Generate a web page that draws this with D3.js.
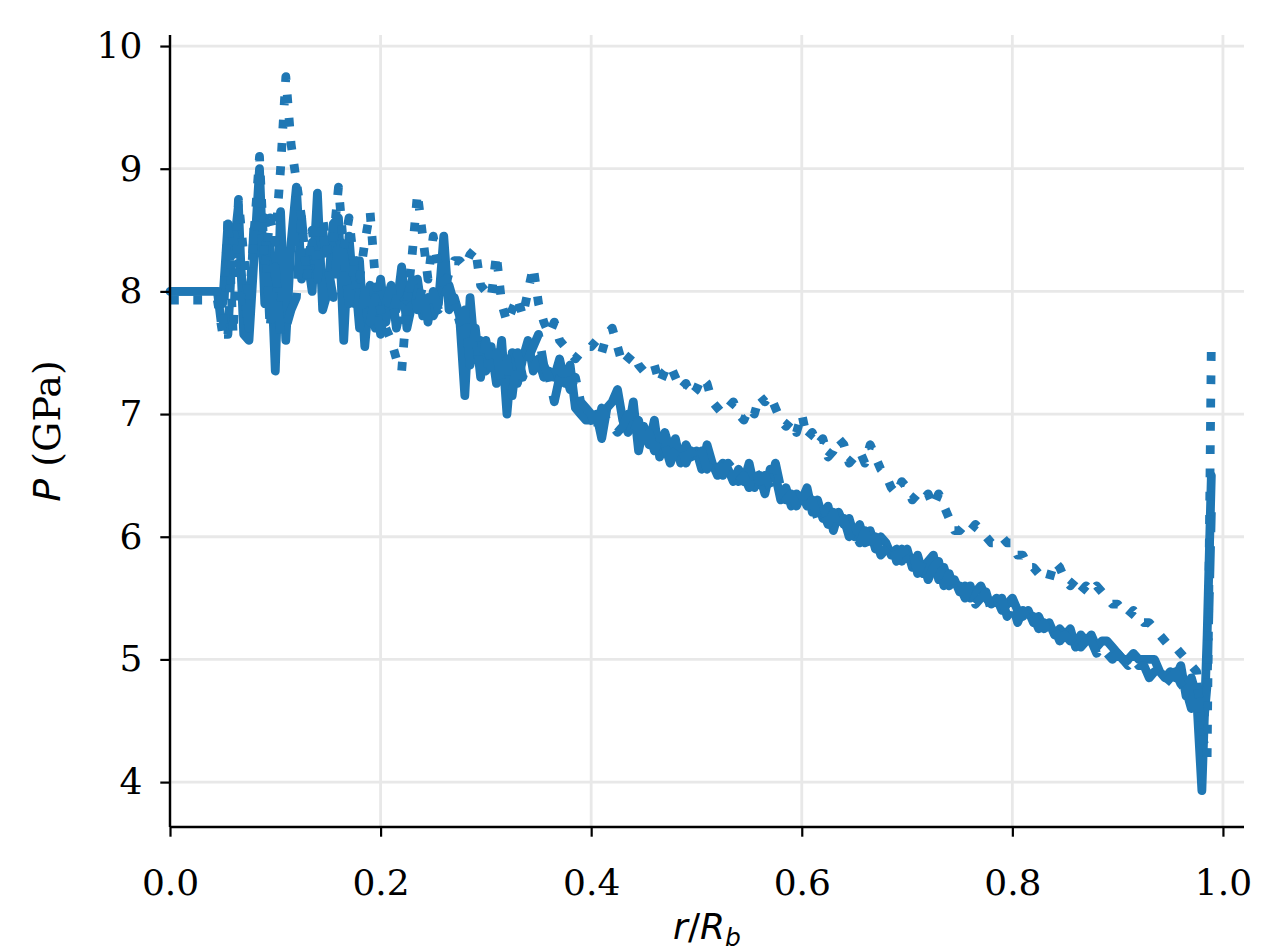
<!DOCTYPE html>
<html>
<head>
<meta charset="utf-8">
<script src="https://cdn.jsdelivr.net/npm/d3@7"></script>
<style>
  body { margin: 0; background: #fff; }
  svg { display: block; }
</style>
</head>
<body>
<div id="chart"></div>
<script>
// radial bins r/R_b (0 .. 0.985 in 0.005 steps, then the last bin)
var r_bins = d3.range(0, 0.98501, 0.005).map(function(v){ return +v.toFixed(3); }).concat([0.989]);

// pressure (GPa), solid series
var p_solid = [
	8.0, 8.0, 8.0, 8.0, 8.0, 8.0, 8.0, 8.0, 8.0, 8.0,
	7.9, 8.55, 8.3, 8.7, 7.65, 7.6, 8.3, 9.0, 7.9, 8.4,
	7.35, 8.65, 7.6, 8.4, 8.85, 8.1, 8.3, 8.0, 8.8, 7.85,
	8.0, 8.55, 8.6, 7.6, 8.45, 7.9, 8.25, 7.55, 8.05, 7.7,
	8.1, 7.75, 8.0, 7.85, 8.2, 7.7, 7.9, 8.1, 7.8, 7.95,
	7.8, 7.9, 8.45, 7.85, 7.95, 7.8, 7.15, 7.95, 7.45, 7.6,
	7.35, 7.55, 7.25, 7.6, 7.0, 7.5, 7.25, 7.45, 7.6, 7.35,
	7.45, 7.3, 7.35, 7.3, 7.45, 7.25, 7.4, 7.05, 7.0, 6.95,
	6.95, 7.0, 6.8, 7.05, 7.1, 7.2, 6.95, 6.85, 7.1, 6.7,
	6.9, 6.75, 6.95, 6.65, 6.85, 6.7, 6.8, 6.6, 6.75, 6.65,
	6.7, 6.55, 6.75, 6.6, 6.5, 6.6, 6.55, 6.45, 6.55, 6.45,
	6.6, 6.4, 6.5, 6.35, 6.55, 6.5, 6.3, 6.4, 6.25, 6.35,
	6.3, 6.4, 6.2, 6.3, 6.15, 6.25, 6.05, 6.2, 6.1, 6.15,
	6.0, 6.1, 5.95, 6.05, 5.9, 6.0, 5.95, 5.85, 5.9, 5.8,
	5.9, 5.75, 5.85, 5.7, 5.8, 5.85, 5.65, 5.75, 5.6, 5.65,
	5.55, 5.6, 5.5, 5.55, 5.6, 5.5, 5.45, 5.5, 5.4, 5.45,
	5.5, 5.4, 5.35, 5.4, 5.3, 5.35, 5.25, 5.3, 5.2, 5.25,
	5.2, 5.25, 5.1, 5.2, 5.15, 5.2, 5.1, 5.15, 5.15, 5.1,
	5.05, 5.0, 5.0, 5.05, 5.0, 5.0, 5.0, 5.0, 4.9, 4.85,
	4.9, 4.85, 4.95, 4.7, 4.85, 4.7, 3.93, 5.2, 6.5
];

// pressure (GPa), dashed series
var p_dashed = [
	8.0, 8.0, 8.0, 8.0, 8.0, 8.0, 8.0, 8.0, 8.0, 8.0,
	7.65, 7.65, 8.5, 8.3, 8.0, 7.7, 8.6, 8.5, 8.6, 7.7,
	8.2, 7.65, 7.7, 7.85, 7.95, 8.6, 8.15, 8.4, 8.1, 8.5,
	8.2, 7.95, 8.45, 8.3, 7.9, 8.2, 7.7, 8.0, 7.75, 7.95,
	7.65, 7.9, 8.05, 7.7, 7.9, 7.95, 8.1, 7.85, 8.05, 7.75,
	8.0, 7.85, 7.95, 8.05, 7.9, 7.75, 7.85, 7.4, 7.7, 7.3,
	7.6, 7.4, 7.5, 7.25, 7.45, 7.15, 7.5, 7.3, 7.45, 7.55,
	7.65, 7.4, 7.3, 7.1, 7.3, 7.35, 7.2, 7.3, 7.1, 7.05,
	7.0, 6.85, 7.05, 6.95, 6.9, 6.85, 6.9, 7.0, 6.85, 6.95,
	6.75, 6.85, 6.7, 6.8, 6.75, 6.6, 6.7, 6.75, 6.6, 6.7,
	6.6, 6.7, 6.55, 6.65, 6.6, 6.5, 6.6, 6.55, 6.45, 6.5,
	6.4, 6.55, 6.45, 6.5, 6.4, 6.6, 6.4, 6.3, 6.35, 6.25,
	6.35, 6.25, 6.3, 6.15, 6.2, 6.1, 6.2, 6.05, 6.15, 6.0,
	6.05, 5.95, 6.05, 5.9, 6.0, 5.85, 5.9, 5.95, 5.8, 5.9,
	5.85, 5.9, 5.7, 5.8, 5.65, 5.75, 5.8, 5.6, 5.7, 5.55,
	5.6, 5.5, 5.6, 5.45, 5.5, 5.55, 5.4, 5.45, 5.5, 5.35,
	5.45, 5.3, 5.4, 5.3, 5.35, 5.25, 5.3, 5.2, 5.25, 5.15,
	5.2, 5.15, 5.2, 5.1, 5.15, 5.15, 5.05, 5.1, 5.05, 5.0,
	5.05, 5.0, 4.95, 5.0, 4.95, 4.95, 4.85, 4.9, 4.85, 4.8,
	4.85, 4.9, 4.8, 4.75, 4.6, 4.85, 4.3, 4.8, 6.2
];

// pressure (GPa), dotted series
var p_dotted = [
	7.93, 7.93, 7.93, 7.93, 7.93, 7.93, 7.93, 7.93, 7.93, 7.93,
	7.65, 8.6, 7.65, 8.75, 8.3, 7.9, 8.5, 9.1, 8.2, 8.6,
	8.4, 9.0, 9.75, 9.2, 8.9, 8.6, 8.1, 8.5, 8.2, 8.6,
	8.3, 8.4, 8.85, 8.35, 8.6, 8.2, 8.1, 8.4, 8.65, 8.1,
	7.85, 7.7, 7.6, 7.45, 7.35, 7.9, 8.3, 8.8, 8.45, 8.1,
	8.45, 8.2, 8.0, 8.15, 8.25, 8.25, 8.2, 8.3, 8.35, 8.05,
	8.0, 7.95, 8.3, 7.9, 7.75, 7.85, 7.95, 7.8, 8.0, 8.2,
	7.9, 7.75, 7.65, 7.75, 7.6, 7.55, 7.5, 7.45, 7.5, 7.55,
	7.55, 7.6, 7.5, 7.65, 7.7, 7.55, 7.4, 7.45, 7.5, 7.4,
	7.35, 7.35, 7.4, 7.25, 7.35, 7.4, 7.3, 7.2, 7.25, 7.15,
	7.2, 7.3, 7.25, 7.1, 7.05, 7.0, 7.05, 7.1, 7.0, 6.95,
	7.05, 7.0, 7.15, 7.1, 7.15, 7.05, 6.95, 6.9, 6.95, 6.85,
	7.0, 6.8, 6.85, 6.75, 6.8, 6.65, 6.7, 6.8, 6.75, 6.6,
	6.65, 6.7, 6.6, 6.75, 6.65, 6.55, 6.5, 6.4, 6.35, 6.45,
	6.4, 6.3, 6.35, 6.3, 6.35, 6.25, 6.35, 6.25, 6.15, 6.05,
	6.05, 6.1, 6.05, 6.1, 6.05, 6.0, 5.95, 5.95, 6.0, 5.95,
	5.95, 5.85, 5.85, 5.75, 5.75, 5.7, 5.7, 5.65, 5.8, 5.75,
	5.65, 5.6, 5.65, 5.55, 5.6, 5.55, 5.6, 5.55, 5.5, 5.45,
	5.45, 5.4, 5.35, 5.4, 5.35, 5.3, 5.3, 5.25, 5.2, 5.15,
	5.1, 5.1, 5.05, 5.0, 4.95, 4.9, 4.4, 4.2, 7.6
];

var x_ticks = [0.0, 0.2, 0.4, 0.6, 0.8, 1.0];
var y_ticks = [4, 5, 6, 7, 8, 9, 10];

var settings = {
	width: 1286,
	height: 952,
	left: 170,
	right: 1244,
	top: 35,
	bottom: 827,
	colour: '#1f77b4',
	line_width: 8.8
};

var svg = d3.select('#chart')
	.append('svg')
	.attr('width', settings.width)
	.attr('height', settings.height);

var x = d3.scaleLinear().domain([0, 1.02]).range([settings.left, settings.right]);
var y = d3.scaleLinear().domain([3.634, 10.09]).range([settings.bottom, settings.top]);

//grid first so the lines sit over it
var grid = svg.append('g');
grid.selectAll('.gx')
	.data(x_ticks)
	.enter().append('line')
	.attr('x1', function(d){ return x(d); })
	.attr('x2', function(d){ return x(d); })
	.attr('y1', settings.top)
	.attr('y2', settings.bottom)
	.style('stroke', '#e8e8e8')
	.style('stroke-width', 2.8);
grid.selectAll('.gy')
	.data(y_ticks)
	.enter().append('line')
	.attr('x1', settings.left)
	.attr('x2', settings.right)
	.attr('y1', function(d){ return y(d); })
	.attr('y2', function(d){ return y(d); })
	.style('stroke', '#e8e8e8')
	.style('stroke-width', 2.8);

var plot = svg.append('g');

function add_series(values, dash, cap){
	var line = d3.line()
		.x(function(d, i){ return x(r_bins[i]); })
		.y(function(d){ return y(d); });
	plot.append('path')
		.datum(values)
		.attr('d', line)
		.style('fill', 'none')
		.style('stroke', settings.colour)
		.style('stroke-width', settings.line_width)
		.style('stroke-linejoin', 'round')
		.style('stroke-linecap', cap)
		.style('stroke-dasharray', dash);
}
add_series(p_solid, null, 'round');
add_series(p_dashed, '32,14', 'butt');
add_series(p_dotted, '8.8,14.5', 'butt');

//axes
var x_axis = svg.append('g')
	.attr('transform', 'translate(0,' + settings.bottom + ')')
	.call(d3.axisBottom(x).tickValues(x_ticks).tickFormat(d3.format('.1f')).tickSize(9.7).tickPadding(33));
var y_axis = svg.append('g')
	.attr('transform', 'translate(' + settings.left + ',0)')
	.call(d3.axisLeft(y).tickValues(y_ticks).tickFormat(d3.format('d')).tickSize(9.7).tickPadding(18));

[x_axis, y_axis].forEach(function(a){
	a.select('.domain').style('stroke', '#000').style('stroke-width', 2.4);
	a.selectAll('.tick line').style('stroke', '#000').style('stroke-width', 2.2);
	a.selectAll('.tick text')
		.style('font-family', '"DejaVu Serif", serif')
		.style('font-size', '36px')
		.style('fill', '#000');
});
//only the bottom and left spines, shortened to the axes box
x_axis.select('.domain').attr('d', 'M' + settings.left + ',0H' + settings.right);
y_axis.select('.domain').attr('d', 'M0,' + settings.top + 'V' + settings.bottom);

//axis labels
var x_label = svg.append('text')
	.attr('x', (settings.left + settings.right) / 2)
	.attr('y', 939)
	.attr('text-anchor', 'middle')
	.style('font-family', '"DejaVu Sans", sans-serif')
	.style('font-size', '36px');
x_label.append('tspan').style('font-style', 'italic').text('r');
x_label.append('tspan').text('/');
x_label.append('tspan').style('font-style', 'italic').text('R');
x_label.append('tspan').style('font-style', 'italic').style('font-size', '25px').attr('dy', 7).text('b');

var y_label = svg.append('text')
	.attr('transform', 'translate(60,' + (settings.top + settings.bottom) / 2 + ') rotate(-90)')
	.attr('text-anchor', 'middle')
	.style('font-size', '38px');
y_label.append('tspan').style('font-family', '"DejaVu Sans", sans-serif').style('font-style', 'italic').text('P');
y_label.append('tspan').style('font-family', '"DejaVu Serif", serif').text(' (GPa)');
</script>
</body>
</html>
